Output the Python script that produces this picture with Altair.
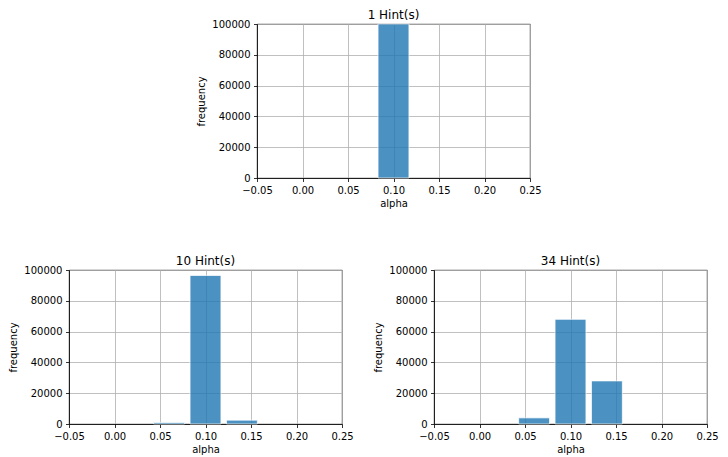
import altair as alt
import pandas as pd

# bin edges (alpha) and frequencies per panel
bin_left = [0.04, 0.08, 0.12]
bin_right = [0.08, 0.12, 0.16]
counts_1 = [0, 100000, 0]
counts_10 = [1000, 96500, 2500]
counts_34 = [4000, 68000, 28000]
titles = ["1 Hint(s)", "10 Hint(s)", "34 Hint(s)"]
x_ticks = [-0.05, 0.0, 0.05, 0.10, 0.15, 0.20, 0.25]
y_ticks = [0, 20000, 40000, 60000, 80000, 100000]
RWIDTH = 0.85

FONT = "DejaVu Sans"
W, H = 273, 154


def panel(counts, title):
    df = pd.DataFrame({"left": bin_left, "right": bin_right, "count": counts})
    gap = (1 - RWIDTH) / 2
    return (
        alt.Chart(df, title=alt.Title(title, fontSize=12, fontWeight="normal",
                                      font=FONT, color="black", offset=-3))
        .transform_filter("datum.count > 0")
        .transform_calculate(
            x0=f"datum.left + {gap}*(datum.right-datum.left)",
            x1=f"datum.right - {gap}*(datum.right-datum.left)",
        )
        .mark_bar(color="#1f77b4", opacity=0.8, stroke="white", strokeWidth=0.8)
        .encode(
            x=alt.X("x0:Q", scale=alt.Scale(domain=[-0.05, 0.25], nice=False, zero=False),
                    axis=alt.Axis(values=x_ticks, format=".2f", title="alpha")),
            x2="x1:Q",
            y=alt.Y("count:Q", scale=alt.Scale(domain=[0, 100000], nice=False),
                    axis=alt.Axis(values=y_ticks, format="d", title="frequency")),
            y2=alt.datum(0),
        )
        .properties(width=W, height=H)
    )


spacer = (
    alt.Chart(pd.DataFrame({"v": [0]}))
    .mark_point(opacity=0)
    .encode(x=alt.value(0), y=alt.value(0))
    .properties(width=188, height=H, view=alt.ViewBackground(strokeOpacity=0))
)

top = alt.hconcat(spacer, panel(counts_1, titles[0]), spacing=0, bounds="flush")
bottom = alt.hconcat(panel(counts_10, titles[1]), panel(counts_34, titles[2]),
                     spacing=92, bounds="flush")

chart = (
    alt.vconcat(top, bottom, spacing=H + 92, bounds="flush")
    .properties(padding={"left": 0, "top": 0, "right": 0, "bottom": 0})
    .configure_view(stroke="black", strokeWidth=0.8)
    .configure_axis(
        labelFont=FONT, titleFont=FONT, labelFontSize=10, titleFontSize=10,
        labelColor="black", titleColor="black", titleFontWeight="normal",
        grid=True, gridColor="#b0b0b0", gridWidth=0.8,
        domainColor="black", domainWidth=0.8,
        tickColor="black", tickWidth=0.8, tickSize=3.5, labelPadding=3.5,
    )
    .configure_axisX(titlePadding=3, labelFlush=False)
    .configure_axisY(titlePadding=5)
)

chart.save("out.html", embed_options={"renderer": "svg", "actions": False})
